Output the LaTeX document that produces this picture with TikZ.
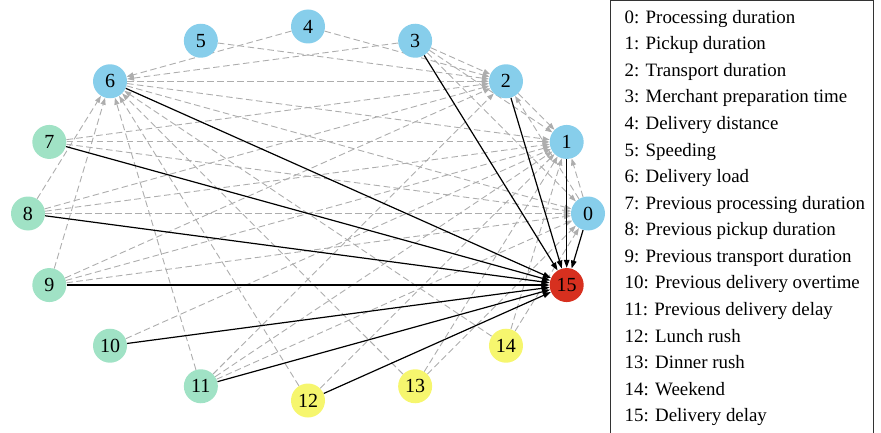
\documentclass[tikz,border=0pt]{standalone}
\usepackage{fontspec}
\setmainfont{Liberation Serif}
\usetikzlibrary{arrows.meta}
\pgfdeclarelayer{edges}
\pgfsetlayers{edges,main}
\definecolor{nblue}{HTML}{87CEEB}
\definecolor{ngreen}{HTML}{A0E2C5}
\definecolor{nyellow}{HTML}{F6F66E}
\definecolor{nred}{HTML}{D7301F}
\definecolor{edgegray}{HTML}{ADADAD}
\tikzset{
  var/.style={circle, minimum size=34pt, inner sep=0pt, fill=#1,
    font=\fontsize{20}{20}\selectfont},
  weak/.style={draw=edgegray, line width=0.9pt, dash pattern=on 6.5pt off 3.5pt,
    -{Triangle[length=7pt,width=5pt,fill=edgegray]}},
  strong/.style={draw=black, line width=1.2pt,
    -{Triangle[length=8pt,width=5.5pt]}},
  legendtext/.style={anchor=base west, inner sep=0pt, font=\fontsize{18.9}{20}\selectfont}
}
\begin{document}
\begin{tikzpicture}[x=1pt,y=-1pt]
\useasboundingbox (0,0) rectangle (881,433);
% variables placed on an ellipse, 22.5 degrees apart
\foreach \i/\c in {0/nblue,1/nblue,2/nblue,3/nblue,4/nblue,5/nblue,6/nblue,
                   7/ngreen,8/ngreen,9/ngreen,10/ngreen,11/ngreen,
                   12/nyellow,13/nyellow,14/nyellow,15/nred}
  \node[var=\c] (n\i) at ({308+280*cos(22.5*\i)},{213.5-187*sin(22.5*\i)}) {\i};
% uncertain links
\begin{pgfonlayer}{edges}
\foreach \s/\t in {3/6,4/6,8/6,9/6,11/6,12/6,13/6,14/6,
                   3/2,4/2,5/2,6/2,7/2,8/2,9/2,11/2,0/2,
                   2/1,3/1,6/1,7/1,8/1,9/1,10/1,11/1,12/1,13/1,14/1,0/1,
                   3/0,6/0,7/0,8/0,9/0,11/0,13/0,14/0}
  \draw[weak] (n\s) -- (n\t);
% direct causes of the delay
\foreach \s in {0,1,2,3,6,7,8,9,10,11,12}
  \draw[strong] (n\s) -- (n15);
\end{pgfonlayer}
% legend
\draw[line width=0.8pt, draw=black!80] (610,0.5) rectangle (873,440);
\foreach \k/\txt in {0/Processing duration,1/Pickup duration,2/Transport duration,
    3/Merchant preparation time,4/Delivery distance,5/Speeding,6/Delivery load,
    7/Previous processing duration,8/Previous pickup duration,
    9/Previous transport duration,10/Previous delivery overtime,
    11/Previous delivery delay,12/Lunch rush,13/Dinner rush,14/Weekend,
    15/Delivery delay}
  \node[legendtext] (l\k) at (624.5,{23.3+26.56*\k}) {\k: \txt};
\end{tikzpicture}
\end{document}
